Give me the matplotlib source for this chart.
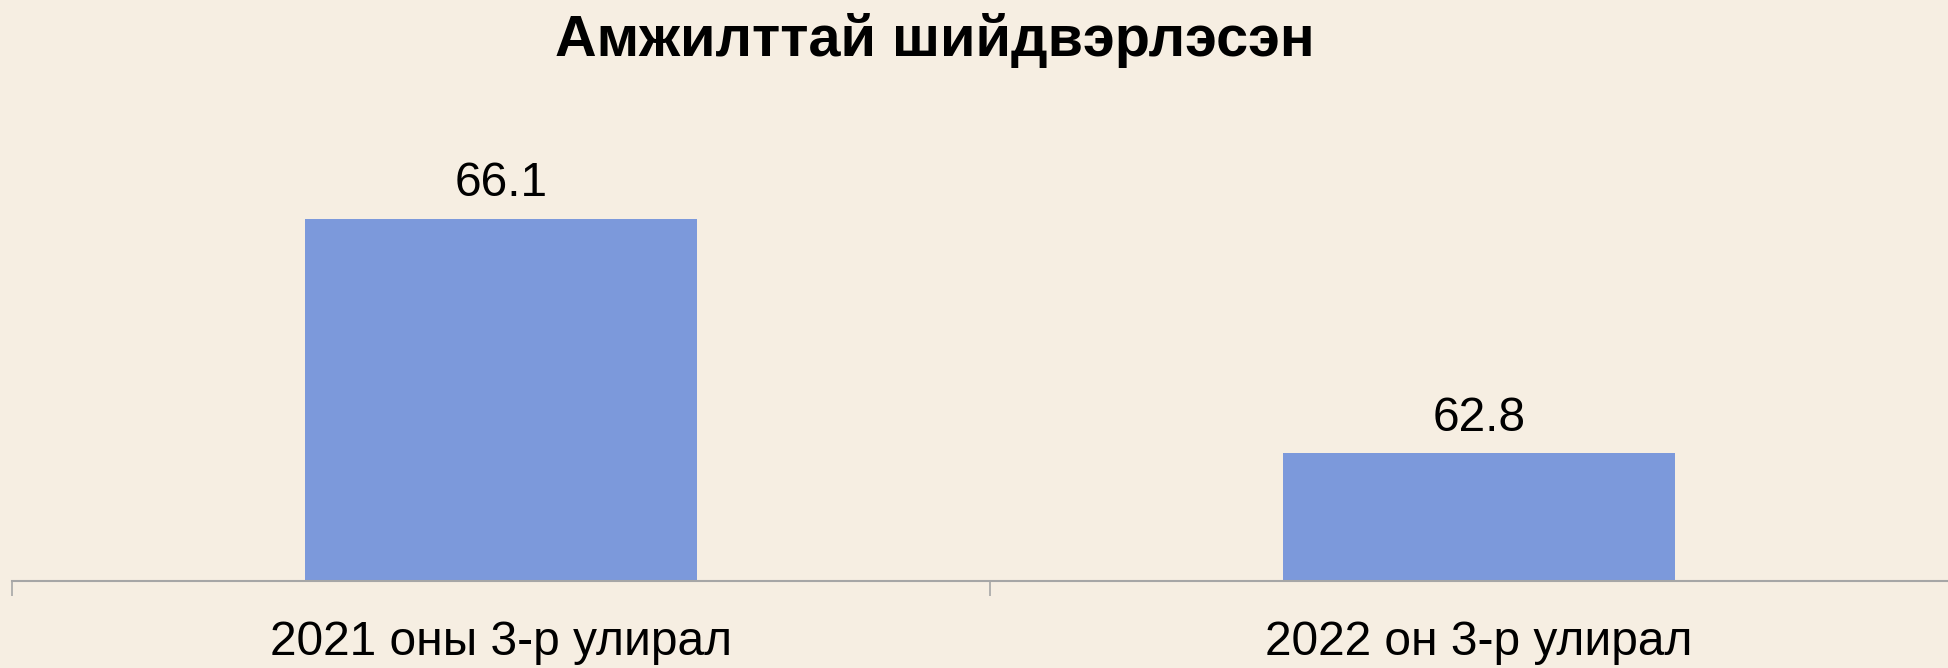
import numpy as np
import matplotlib.pyplot as plt
from matplotlib.ticker import FixedLocator

plt.rcParams['font.family'] = ['Liberation Sans', 'DejaVu Sans']

# Data
categories = ['2021 оны 3-р улирал', '2022 он 3-р улирал']
values = [66.1, 62.8]
title = 'Амжилттай шийдвэрлэсэн'

bg = '#F6EEE2'
bar_color = '#7C99DB'
axis_color = '#A6A6A6'

fig = plt.figure(figsize=(19.49, 6.68), dpi=100, facecolor=bg)
ax = fig.add_axes([12 / 1949, 87 / 668, 1956 / 1949, 426 / 668])
ax.set_facecolor(bg)

x = np.arange(len(categories))
bars = ax.bar(x, values, width=0.4, color=bar_color, zorder=2)
ax.bar_label(bars, labels=[f'{v:.1f}' for v in values], padding=9, fontsize=34.5)

ax.set_xlim(-0.5, len(categories) - 0.5)
ax.set_ylim(61, 67)

# Category labels in the middle, tick marks on the boundaries
ax.xaxis.set_major_locator(FixedLocator(np.arange(len(categories) + 1) - 0.5))
ax.xaxis.set_minor_locator(FixedLocator(x))
ax.set_xticklabels([], minor=False)
ax.set_xticklabels(categories, minor=True, fontsize=34.5)
ax.tick_params(axis='x', which='major', length=11, width=1.2, color=axis_color)
ax.tick_params(axis='x', which='minor', length=0, pad=28)
ax.set_yticks([])

for side in ['top', 'right', 'left']:
    ax.spines[side].set_visible(False)
ax.spines['bottom'].set_color(axis_color)
ax.spines['bottom'].set_linewidth(1.5)

fig.text(935 / 1949, 1 - 40 / 668, title, ha='center', va='center',
         fontsize=41.5, fontweight='bold')

fig.savefig('out.png', dpi=100, facecolor=bg)
